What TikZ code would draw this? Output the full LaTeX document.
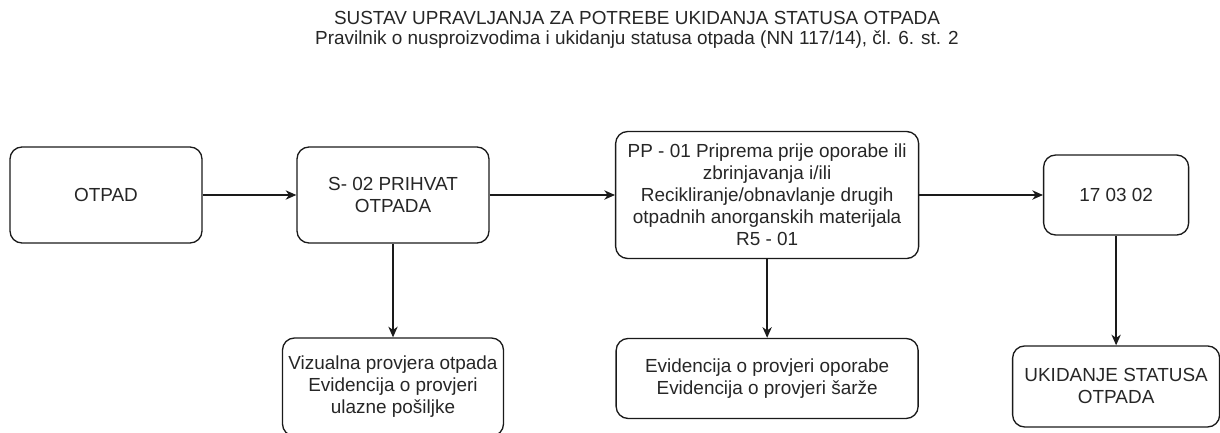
\documentclass[tikz,border=0pt]{standalone}
\usepackage{fontspec}
\setmainfont{Liberation Sans}
\usepackage{xcolor}
\usepackage{tikz}
\usetikzlibrary{positioning, arrows.meta}

\definecolor{linecol}{HTML}{1A1A1A}
\definecolor{textcol}{HTML}{262626}

\begin{document}
\begin{tikzpicture}[x=0.75pt, y=-0.75pt,
    box/.style={draw=linecol, line width=1pt, rounded corners=9pt, align=center,
        text=textcol, font=\fontsize{14.2pt}{16.5pt}\selectfont, inner sep=2pt},
    flow/.style={draw=linecol, line width=1pt, -{Stealth[length=8pt, width=7pt, inset=2.5pt]}}]
    \useasboundingbox (0,0) rectangle (1220,432);
    \clip (0,0) rectangle (1220,432);
    % naslov
    \node (naslov) [text=textcol, align=center, font=\fontsize{14.2pt}{15pt}\selectfont] at (637,30)
        {SUSTAV UPRAVLJANJA ZA POTREBE UKIDANJA STATUSA OTPADA\\
         Pravilnik o nusproizvodima i ukidanju statusa otpada (NN 117/14), čl. 6. st. 2};
    % glavni tok
    \node (otpad) [box, minimum width=144pt, minimum height=72pt] at (106,195) {OTPAD};
    \node (prihvat) [box, minimum width=144pt, minimum height=72pt, node distance=215.25pt, right of=otpad]
        {S- 02 PRIHVAT\\OTPADA};
    \node (priprema) [box, minimum width=227.25pt, minimum height=95.25pt, node distance=280.6pt, right of=prihvat]
        {PP - 01 Priprema prije oporabe ili\\zbrinjavanja i/ili\\Recikliranje/obnavlanje drugih\\otpadnih anorganskih materijala\\R5 - 01};
    \node (kod) [box, minimum width=108.75pt, minimum height=60pt, node distance=261.75pt, right of=priprema]
        {17 03 02};
    % evidencije
    \node (vizualna) [box, minimum width=165.75pt, minimum height=73.5pt, node distance=144pt, below of=prihvat]
        {Vizualna provjera otpada\\Evidencija o provjeri\\ulazne pošiljke};
    \node (evidencija) [box, minimum width=226.5pt, minimum height=60pt, node distance=137.6pt, below of=priprema]
        {Evidencija o provjeri oporabe\\Evidencija o provjeri šarže};
    \node (ukidanje) [box, minimum width=155.25pt, minimum height=60.75pt, node distance=143.6pt, below of=kod]
        {UKIDANJE STATUSA\\OTPADA};
    \draw[flow] (otpad) -- (prihvat);
    \draw[flow] (prihvat) -- (priprema);
    \draw[flow] (priprema) -- (kod);
    \draw[flow] (prihvat) -- (vizualna);
    \draw[flow] (priprema) -- (evidencija);
    \draw[flow] (kod) -- (ukidanje);
\end{tikzpicture}
\end{document}
